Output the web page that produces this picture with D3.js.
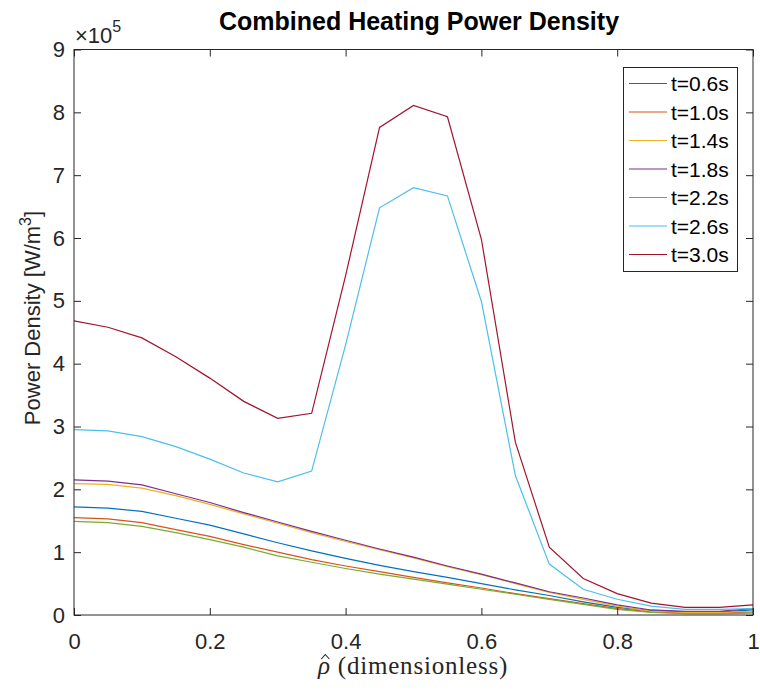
<!doctype html>
<meta charset="utf-8">
<title>Combined Heating Power Density</title>
<script src="https://cdn.jsdelivr.net/npm/d3@7"></script>
<style>
  body { margin: 0; background: #fff; }
  text { font-family: "Liberation Sans", Arial, sans-serif; fill: #262626; }
</style>
<body>
<svg id="chart" width="760" height="691"></svg>
<script>
// rho hat grid, 0 .. 1 in steps of 0.05
var rho = [0, 0.05, 0.1, 0.15, 0.2, 0.25, 0.3, 0.35, 0.4, 0.45, 0.5,
           0.55, 0.6, 0.65, 0.7, 0.75, 0.8, 0.85, 0.9, 0.95, 1.0];

// power density in units of 1e5 W/m^3
var p06 = [1.72, 1.70, 1.65, 1.54, 1.43, 1.29, 1.15, 1.02, 0.90, 0.79, 0.69,
           0.60, 0.50, 0.40, 0.31, 0.21, 0.12, 0.07, 0.05, 0.05, 0.08];
var p10 = [1.55, 1.53, 1.47, 1.36, 1.25, 1.12, 1.00, 0.88, 0.78, 0.69, 0.60,
           0.51, 0.43, 0.34, 0.26, 0.18, 0.10, 0.05, 0.03, 0.03, 0.05];
var p14 = [2.09, 2.08, 2.02, 1.90, 1.76, 1.61, 1.46, 1.31, 1.17, 1.04, 0.91,
           0.77, 0.64, 0.50, 0.36, 0.25, 0.14, 0.06, 0.04, 0.04, 0.06];
var p18 = [2.15, 2.13, 2.07, 1.93, 1.79, 1.63, 1.48, 1.33, 1.19, 1.05, 0.92,
           0.78, 0.65, 0.51, 0.37, 0.27, 0.16, 0.08, 0.06, 0.06, 0.10];
var p22 = [1.49, 1.47, 1.41, 1.31, 1.20, 1.08, 0.94, 0.84, 0.74, 0.65, 0.57,
           0.49, 0.41, 0.33, 0.25, 0.17, 0.09, 0.04, 0.02, 0.02, 0.03];
var p26 = [2.95, 2.93, 2.84, 2.68, 2.48, 2.26, 2.12, 2.29, 4.30, 6.48, 6.80,
           6.67, 4.99, 2.22, 0.81, 0.41, 0.25, 0.14, 0.09, 0.09, 0.10];
var p30 = [4.68, 4.58, 4.41, 4.11, 3.77, 3.40, 3.13, 3.21, 5.40, 7.76, 8.11,
           7.93, 5.98, 2.75, 1.08, 0.58, 0.34, 0.19, 0.12, 0.12, 0.16];

var labels = ["t=0.6s", "t=1.0s", "t=1.4s", "t=1.8s", "t=2.2s", "t=2.6s", "t=3.0s"];
var colors = ["#0072BD", "#D95319", "#EDB120", "#7E2F8E", "#77AC30", "#4DBEEE", "#A2142F"];
var series = [p06, p10, p14, p18, p22, p26, p30];

var xTicks = [0, 0.2, 0.4, 0.6, 0.8, 1];
var yTicks = [0, 1, 2, 3, 4, 5, 6, 7, 8, 9];

// plot box (note: "top" is taken by window.top, so use boxTop)
var boxLeft = 74, boxRight = 753, boxTop = 49.5, boxBottom = 615;

var svg = d3.select("#chart");
var x = d3.scaleLinear().domain([0, 1]).range([boxLeft, boxRight]);
var y = d3.scaleLinear().domain([0, 9]).range([boxBottom, boxTop]);

var line = d3.line()
    .x(function(d, i) { return x(rho[i]); })
    .y(function(d) { return y(d); });

svg.append("g").selectAll("path")
    .data(series)
  .enter().append("path")
    .attr("d", line)
    .attr("fill", "none")
    .attr("stroke", function(d, i) { return colors[i]; })
    .attr("stroke-width", 1.2);

// axes: ticks inside, box on all four sides
var tick = 7;
var axisStyle = function(g) {
  g.select(".domain").remove();
  g.selectAll("line").attr("stroke", "#262626");
  g.selectAll("text").attr("font-size", 22).attr("fill", "#262626")
    .attr("font-family", "'Liberation Sans', Arial, sans-serif");
};

svg.append("g")
    .attr("transform", "translate(0," + boxBottom + ")")
    .call(d3.axisBottom(x).tickValues(xTicks).tickSize(-tick).tickPadding(18)
          .tickFormat(function(d) { return d === 0 || d === 1 ? d : d.toFixed(1); }))
    .call(axisStyle);
svg.append("g")
    .attr("transform", "translate(0," + boxTop + ")")
    .call(d3.axisTop(x).tickValues(xTicks).tickSize(-tick).tickFormat(""))
    .call(axisStyle);
svg.append("g")
    .attr("transform", "translate(" + boxLeft + ",0)")
    .call(d3.axisLeft(y).tickValues(yTicks).tickSize(-tick).tickPadding(9))
    .call(axisStyle);
svg.append("g")
    .attr("transform", "translate(" + boxRight + ",0)")
    .call(d3.axisRight(y).tickValues(yTicks).tickSize(-tick).tickFormat(""))
    .call(axisStyle);

svg.append("rect")
    .attr("x", boxLeft).attr("y", boxTop)
    .attr("width", boxRight - boxLeft).attr("height", boxBottom - boxTop)
    .attr("fill", "none").attr("stroke", "#262626").attr("stroke-width", 1);

// exponent label
var ex = svg.append("text").attr("x", 75).attr("y", 43).attr("font-size", 22);
ex.append("tspan").text("\u00d710");
ex.append("tspan").attr("dy", -11).attr("font-size", 16).text("5");

// title
svg.append("text")
    .attr("x", 419).attr("y", 30)
    .attr("text-anchor", "middle")
    .attr("font-size", 25).attr("font-weight", "bold").style("fill", "#000")
    .text("Combined Heating Power Density");

// y label
var yl = svg.append("text")
    .attr("transform", "translate(40,318) rotate(-90)")
    .attr("text-anchor", "middle")
    .attr("font-size", 22);
yl.append("tspan").text("Power Density [W/m");
yl.append("tspan").attr("dy", -9).attr("font-size", 16).text("3");
yl.append("tspan").attr("dy", 9).text("]");

// x label (latex-ish): rho, with the hat drawn as a small stroke
var serif = "'Liberation Serif', 'Times New Roman', serif";
var xl = svg.append("text")
    .attr("x", 413).attr("y", 674)
    .attr("text-anchor", "middle")
    .attr("font-size", 25)
    .attr("letter-spacing", 0.8)
    .style("font-family", serif);
xl.append("tspan").attr("font-style", "italic").text("\u03c1");
xl.append("tspan").text(" (dimensionless)");
var rhoBox = xl.select("tspan").node().getBBox();
var hx = rhoBox.x + rhoBox.width / 2 + 1.5;
svg.append("path")
    .attr("d", "M" + (hx - 4) + ",659 L" + hx + ",654.5 L" + (hx + 4) + ",659")
    .attr("fill", "none").attr("stroke", "#262626").attr("stroke-width", 1.1);

// legend
var lg = svg.append("g");
lg.append("rect")
    .attr("x", 623.5).attr("y", 67.5).attr("width", 114).attr("height", 204)
    .attr("fill", "#fff").attr("stroke", "#262626").attr("stroke-width", 1);
var rows = lg.selectAll("g.row")
    .data(labels)
  .enter().append("g")
    .attr("class", "row")
    .attr("transform", function(d, i) { return "translate(0," + (83.5 + i * 28.5) + ")"; });
rows.append("line")
    .attr("x1", 629).attr("x2", 667)
    .attr("stroke", function(d, i) { return colors[i]; })
    .attr("stroke-width", 1.2);
rows.append("text")
    .attr("x", 671).attr("y", 7.5)
    .attr("font-size", 21).style("fill", "#000")
    .text(function(d) { return d; });
</script>
</body>
